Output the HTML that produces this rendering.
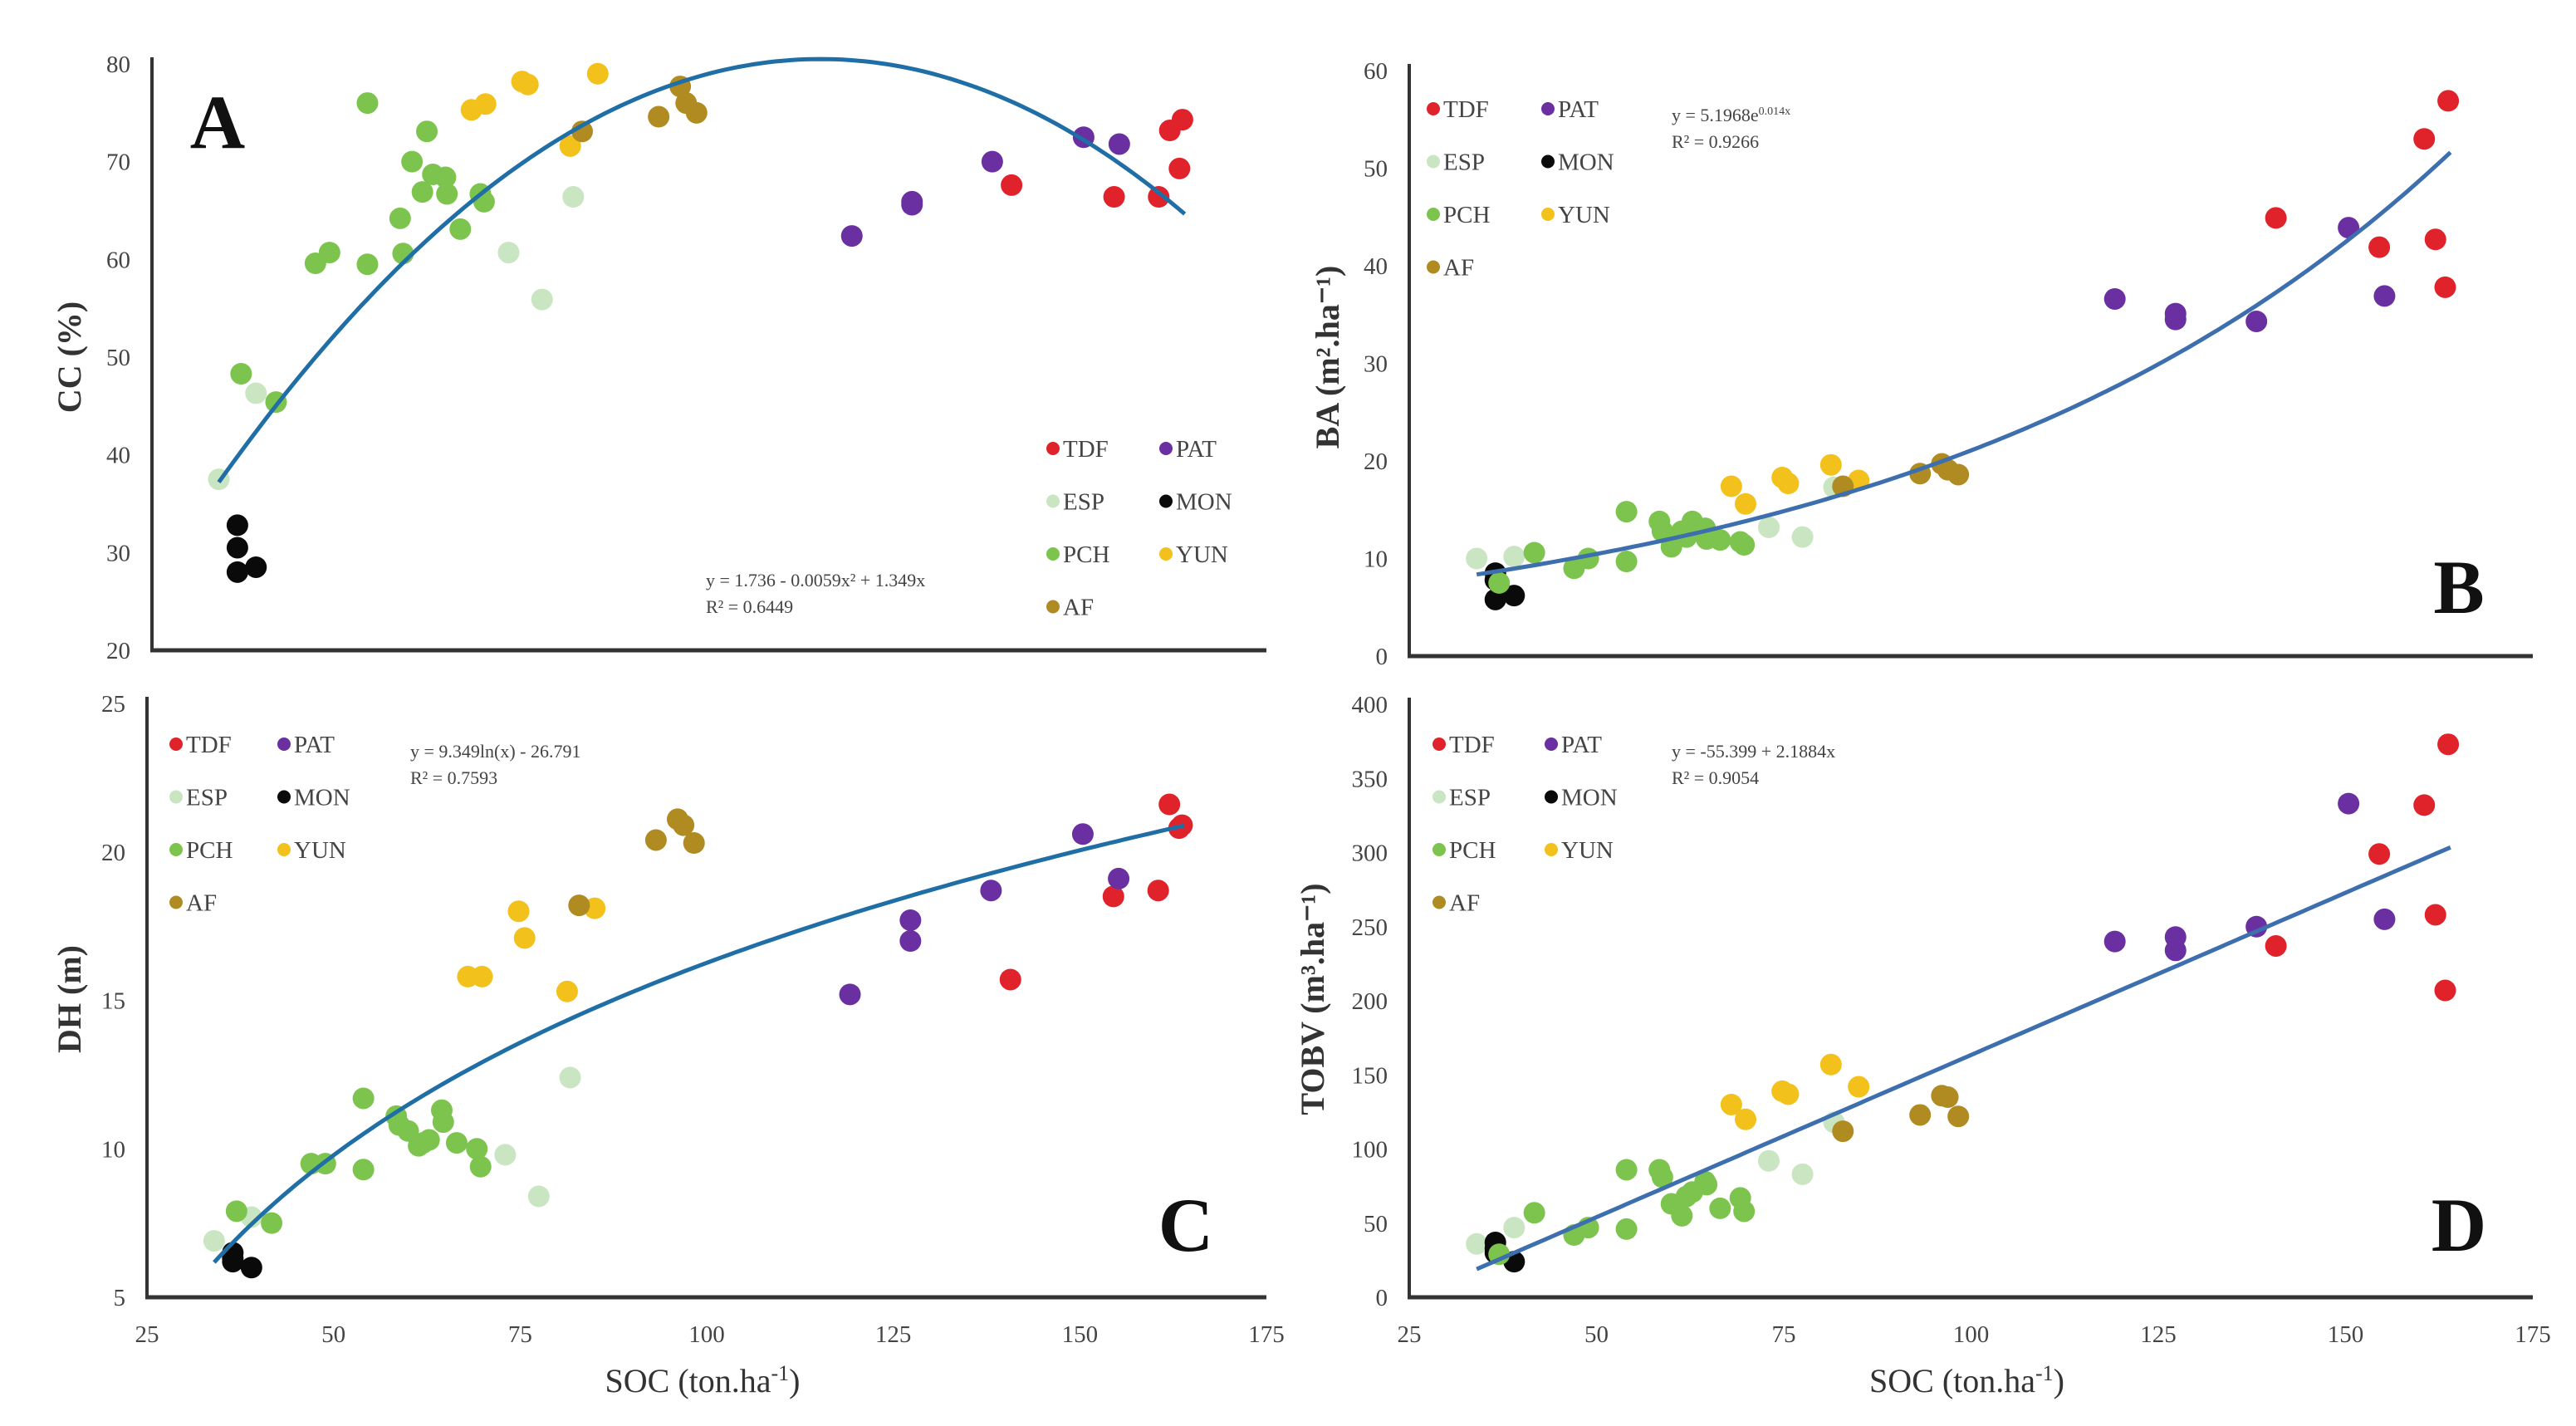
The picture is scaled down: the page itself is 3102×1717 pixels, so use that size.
<!DOCTYPE html>
<html><head><meta charset="utf-8">
<style>
html,body{margin:0;padding:0;background:#fff;}
svg{display:block;font-family:"Liberation Serif",serif;}
</style></head>
<body>
<svg id="fig" width="3102" height="1717" viewBox="0 0 3102 1717" xmlns="http://www.w3.org/2000/svg"></svg>
<script>
// ---- data: SOC (x) per group ----
const groups = ["TDF","PAT","ESP","MON","PCH","YUN","AF"];
const socTDF = [140.7,154.5,160.5,162,163.3,163.7];
const socPAT = [119.2,127.3,127.3,138.1,150.4,155.2];
const socESP = [34,39,73,77.5,81.7];
const socMON = [36.5,36.5,36.5,39];
const socPCH = [37,41.7,47,48.9,54,54,58.4,58.8,60,61.4,62,62.8,64.5,64.7,66.5,69.2,69.7];
const socYUN = [68,69.9,74.8,75.6,81.3,85];
const socAF  = [82.9,93.2,96.1,96.9,98.3];
// Panel A: CC (%)
const ccTDF = [67.6,66.4,66.4,73.2,69.3,74.3];
const ccPAT = [62.4,65.6,65.9,70,72.5,71.8];
const ccESP = [37.5,46.3,60.7,55.9,66.4];
const ccMON = [32.8,30.5,28,28.5];
const ccPCH = [48.3,45.4,59.6,60.7,59.5,76,64.2,60.6,70,66.9,73.1,68.7,68.4,66.7,63.1,66.7,65.9];
const ccYUN = [75.3,75.9,78.2,77.9,71.6,79.0];
const ccAF  = [73.1,74.6,77.7,76,75.0];
// Panel B: BA
const baTDF = [44.9,41.9,53,42.7,37.8,56.9];
const baPAT = [36.6,35.1,34.5,34.3,43.9,36.9];
const baESP = [10,10.2,13.2,12.2,17.3];
const baMON = [8.5,7.8,5.8,6.2];
const baPCH = [7.5,10.6,9.0,10.0,14.8,9.7,13.8,12.8,11.2,12.8,12.2,13.8,13.1,12.0,11.9,11.7,11.4];
const baYUN = [17.4,15.6,18.3,17.7,19.6,18.0];
const baAF  = [17.4,18.7,19.7,19.1,18.6];
// Panel C: DH
const dhTDF = [15.7,18.5,18.7,21.6,20.8,20.9];
const dhPAT = [15.2,17.0,17.7,18.7,20.6,19.1];
const dhESP = [6.9,7.7,9.8,8.4,12.4];
const dhMON = [6.5,6.3,6.2,6.0];
const dhPCH = [7.9,7.5,9.5,9.5,11.7,9.3,11.1,10.8,10.6,10.1,10.2,10.3,11.3,10.9,10.2,10.0,9.4];
const dhYUN = [15.8,15.8,18.0,17.1,15.3,18.1];
const dhAF  = [18.2,20.4,21.1,20.9,20.3];
// Panel D: TOBV
const tbTDF = [237,299,332,258,207,373];
const tbPAT = [240,243,234,250,333,255];
const tbESP = [36,47,92,83,118];
const tbMON = [37,33,30,24];
const tbPCH = [29,57,42,47,86,46,86,81,63,55,68,71,78,76,60,67,58];
const tbYUN = [130,120,139,137,157,142];
const tbAF  = [112,123,136,135,122];
// tick labels
const xTicks = [25,50,75,100,125,150,175];
const yTicksA = [20,30,40,50,60,70,80];
const yTicksB = [0,10,20,30,40,50,60];
const yTicksC = [5,10,15,20,25];
const yTicksD = [0,50,100,150,200,250,300,350,400];

const colors = {TDF:"#e0222b",PAT:"#6a2fa0",ESP:"#c9e5c1",MON:"#0a0a0a",PCH:"#7dc44f",YUN:"#f3c11b",AF:"#b08b22"};
const socs = {TDF:socTDF,PAT:socPAT,ESP:socESP,MON:socMON,PCH:socPCH,YUN:socYUN,AF:socAF};

const NS="http://www.w3.org/2000/svg";
const svg=document.getElementById('fig');
function mk(tag,attrs,parent,txt){const e=document.createElementNS(NS,tag);for(const k in attrs)e.setAttribute(k,attrs[k]);if(txt!==undefined)e.textContent=txt;(parent||svg).appendChild(e);return e;}

const panels=[
 {id:"a",x0:183,x1:1525,y0:783,y1:77,ymin:20,ymax:80,ticks:yTicksA,xlab:false,
  vals:{TDF:ccTDF,PAT:ccPAT,ESP:ccESP,MON:ccMON,PCH:ccPCH,YUN:ccYUN,AF:ccAF},
  fit:x=>80.5-0.0066*(x-115)*(x-115),line:"#1f6fa6",
  letter:"A",lx:262,ly:178,ytitle:"CC (%)",tx:85,ty:430,
  leg:{x:1268,x2:1404,y:540},eq:["y = 1.736 - 0.0059x² + 1.349x","R² = 0.6449"],ex:850,ey:706},
 {id:"b",x0:1697,x1:3050,y0:790,y1:85,ymin:0,ymax:60,ticks:yTicksB,xlab:false,
  vals:{TDF:baTDF,PAT:baPAT,ESP:baESP,MON:baMON,PCH:baPCH,YUN:baYUN,AF:baAF},
  fit:x=>5.1968*Math.exp(0.014*x),line:"#3d6eae",
  letter:"B",lx:2961,ly:738,ytitle:"BA (m².ha⁻¹)",tx:1600,ty:430,
  leg:{x:1726,x2:1864,y:131},eq:["y = 5.1968e","R² = 0.9266"],ex:2013,ey:146},
 {id:"c",x0:177,x1:1525,y0:1562,y1:847,ymin:5,ymax:25,ticks:yTicksC,xlab:true,
  vals:{TDF:dhTDF,PAT:dhPAT,ESP:dhESP,MON:dhMON,PCH:dhPCH,YUN:dhYUN,AF:dhAF},
  fit:x=>9.349*Math.log(x)-26.791,line:"#1f6fa6",
  letter:"C",lx:1428,ly:1506,ytitle:"DH (m)",tx:85,ty:1203,
  leg:{x:212,x2:342,y:896},eq:["y = 9.349ln(x) - 26.791","R² = 0.7593"],ex:494,ey:912},
 {id:"d",x0:1697,x1:3050,y0:1562,y1:848,ymin:0,ymax:400,ticks:yTicksD,xlab:true,
  vals:{TDF:tbTDF,PAT:tbPAT,ESP:tbESP,MON:tbMON,PCH:tbPCH,YUN:tbYUN,AF:tbAF},
  fit:x=>-55.399+2.1884*x,line:"#3d6eae",
  letter:"D",lx:2961,ly:1506,ytitle:"TOBV (m³.ha⁻¹)",tx:1582,ty:1203,
  leg:{x:1733,x2:1868,y:896},eq:["y = -55.399 + 2.1884x","R² = 0.9054"],ex:2013,ey:912}
];

panels.forEach(p=>{
  const g=mk('g',{});
  
  
  const sx=v=>p.x0+(v-25)/150*(p.x1-p.x0);
  const sy=v=>p.y0+(v-p.ymin)/(p.ymax-p.ymin)*(p.y1-p.y0);
  const ya=mk('line',{x1:p.x0,y1:p.y1-8,x2:p.x0,y2:p.y0,stroke:"#333",'stroke-width':4},g);
  
  
  const xa=mk('line',{x1:p.x0-2,y1:p.y0,x2:p.x1,y2:p.y0,stroke:"#333",'stroke-width':5},g);
  
  
  p.ticks.forEach(t=>{
    const e=mk('text',{x:p.x0-26,y:sy(t)+10,'text-anchor':'end','font-size':29,fill:"#444"},g,String(t));
    
    
  });
  if(p.xlab){
    xTicks.forEach(t=>{
      const e=mk('text',{x:sx(t),y:p.y0+54,'text-anchor':'middle','font-size':29,fill:"#444"},g,String(t));
      
      
    });
    const xt=mk('text',{x:(p.x0+p.x1)/2-5,y:1676,'text-anchor':'middle','font-size':40,fill:"#333"},g);
    
    
    xt.innerHTML='SOC (ton.ha<tspan dy="-14" font-size="26">-1</tspan><tspan dy="14">)</tspan>';
  }
  const yt=mk('text',{x:0,y:0,'text-anchor':'middle','font-size':40,'font-weight':'bold',fill:"#333",transform:`translate(${p.tx+12},${p.ty}) rotate(-90)`},g,p.ytitle);
  
  
  groups.forEach(gr=>{
    const xs=socs[gr], ys=p.vals[gr];
    xs.forEach((x,i)=>{
      const c=mk('circle',{cx:sx(x),cy:sy(ys[i]),r:13,fill:colors[gr]},g);
      
      
    });
  });
  let d="";
  for(let x=34;x<=164;x+=1){d+=(x===34?"M":"L")+sx(x).toFixed(1)+","+sy(p.fit(x)).toFixed(1);}
  const tl=mk('path',{d:d,fill:"none",stroke:p.line,'stroke-width':5},g);
  
  
  groups.forEach((gr,i)=>{
    const col=i%2, row=Math.floor(i/2);
    const lx=col===0?p.leg.x:p.leg.x2, ly=p.leg.y+row*63.5;
    const lg=mk('g',{},g);
    
    
    mk('circle',{cx:lx,cy:ly,r:8,fill:colors[gr]},lg);
    mk('text',{x:lx+12,y:ly+10,'font-size':29,fill:"#444"},lg,gr);
  });
  const eq=mk('text',{x:p.ex,y:p.ey,'font-size':22,fill:"#444"},g);
  
  
  if(p.id==="b"){eq.innerHTML='y = 5.1968e<tspan dy="-8" font-size="14">0.014x</tspan>';}
  else eq.textContent=p.eq[0];
  const r2=mk('text',{x:p.ex,y:p.ey+32,'font-size':22,fill:"#444"},g,p.eq[1]);
  
  
  const L=mk('text',{x:p.lx,y:p.ly,'text-anchor':'middle','font-size':92,'font-weight':'bold',fill:"#111"},g,p.letter);
  
  
});
</script>
</body></html>
